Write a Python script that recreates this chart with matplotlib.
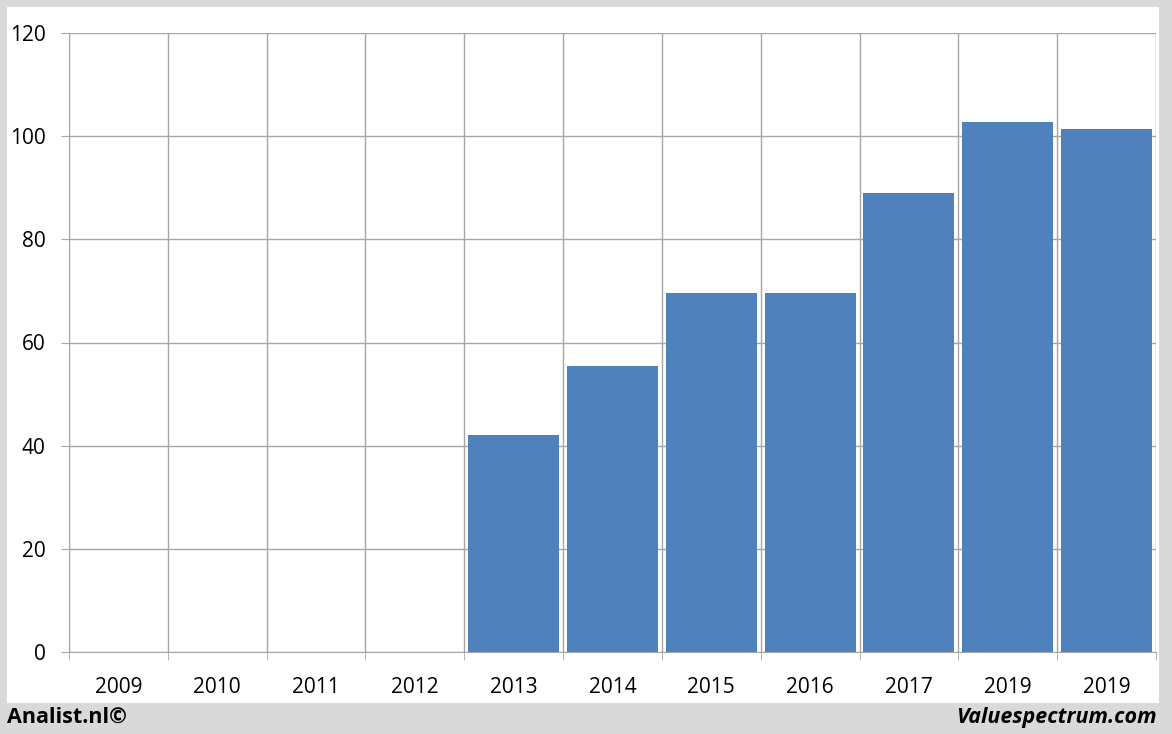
import matplotlib
matplotlib.use("Agg")
import matplotlib.pyplot as plt
from matplotlib.patches import Rectangle
import numpy as np

categories = ["2009", "2010", "2011", "2012", "2013", "2014", "2015", "2016", "2017", "2019", "2019"]
values = [0, 0, 0, 0, 42.0, 55.4, 69.5, 69.5, 88.9, 102.7, 101.4]
yticks = [0, 20, 40, 60, 80, 100, 120]

plt.rcParams['font.family'] = ['Open Sans', 'DejaVu Sans']

W, H = 1172, 734
fig = plt.figure(figsize=(W / 100, H / 100), dpi=100)
fig.patch.set_facecolor('#d9d9d9')
# white panel
fig.patches.append(Rectangle((7 / W, 1 - 703 / H), (1159 - 7) / W, (703 - 7) / H,
                             transform=fig.transFigure, facecolor='white',
                             edgecolor='none', zorder=-10))

left, right = 69 / W, 1156 / W
top, bottom = 33 / H, 652 / H
ax = fig.add_axes([left, 1 - bottom, right - left, bottom - top])
ax.set_zorder(1)
ax.set_facecolor('white')

n = len(categories)
x = np.arange(n)
ax.bar(x, values, width=0.92, color='#4f81bd', zorder=3)

ax.set_xlim(-0.5, n - 0.5)
ax.set_ylim(0, 120)
ax.set_yticks(yticks)
ax.set_yticklabels([str(v) for v in yticks], fontsize=15)
ax.set_xticks(x)
ax.set_xticklabels(categories, fontsize=15)
ax.set_xticks(np.arange(-0.5, n, 1.0), minor=True)

grid_c = '#a6a6a6'
ax.yaxis.grid(True, color=grid_c, linewidth=1.0, zorder=1)
ax.xaxis.grid(True, which='minor', color=grid_c, linewidth=1.0, zorder=1)
ax.xaxis.grid(False, which='major')
ax.set_axisbelow(True)

for s in ['top', 'right']:
    ax.spines[s].set_visible(False)
ax.spines['left'].set_color(grid_c)
ax.spines['bottom'].set_color(grid_c)

ax.tick_params(axis='y', length=6, color=grid_c, pad=11, labelcolor='black')
ax.tick_params(axis='x', which='major', length=0, pad=18, labelcolor='black')
ax.tick_params(axis='x', which='minor', length=6, color=grid_c)

fig.text(7 / W, 1 - 717 / H, "Analist.nl©", fontsize=15.5, fontweight='bold',
         ha='left', va='center', color='black')
fig.text(1157 / W, 1 - 717 / H, "Valuespectrum.com", fontsize=15.5, fontweight='bold',
         fontstyle='italic', ha='right', va='center', color='black')

fig.savefig("out.png", dpi=100, facecolor=fig.get_facecolor())
